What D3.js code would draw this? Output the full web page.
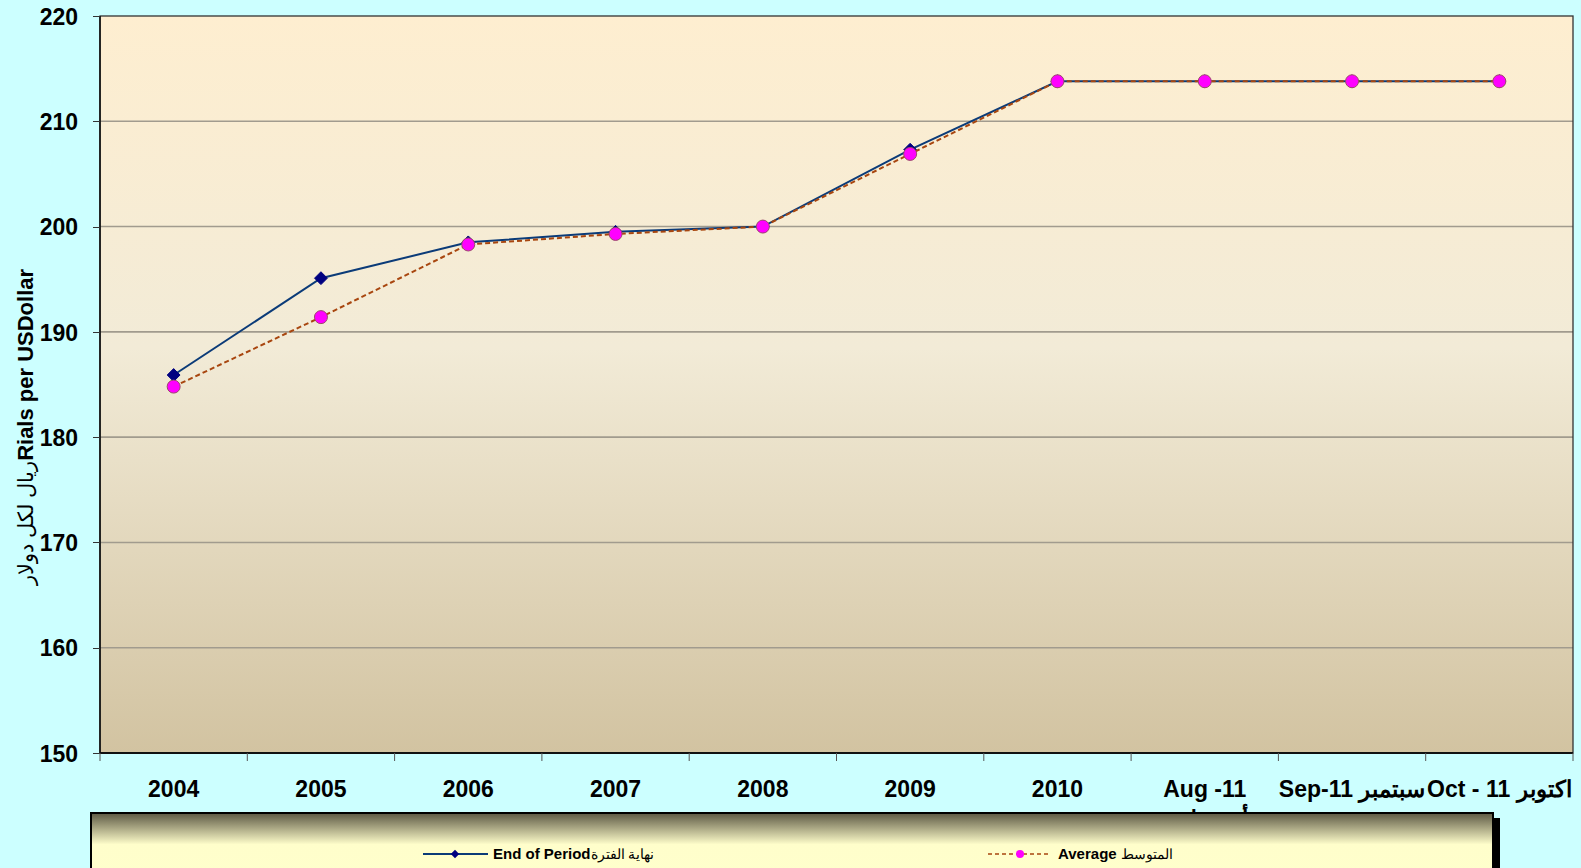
<!DOCTYPE html>
<head>
    <meta charset="utf-8">
    <title>Rials per US Dollar</title>
    <script src="https://d3js.org/d3.v7.min.js"></script>
    <style>
        body{
            margin: 0;
            background: #ccffff;
        }
        text{
            font-family: "Liberation Sans", Arial, sans-serif;
            fill: #000000;
        }
        .yAxis text, .xAxis text{
            font-size: 23px;
            font-weight: 700;
        }
        .tick line{
            stroke: #333333;
            shape-rendering: crispEdges;
        }
        path.domain{
            display: none;
        }
        text.legendText{
            font-size: 15px;
            font-weight: 700;
        }
    </style>
</head>
<body>
<script>
    // categories and series
    var categories = ["2004", "2005", "2006", "2007", "2008", "2009", "2010", "Aug -11", "Sep-11 سبتمبر", "Oct - 11 اكتوبر"];
    var subLabels = {"Aug -11": "أغسطس"};
    var endOfPeriod = [185.9, 195.1, 198.5, 199.5, 200.0, 207.3, 213.8, 213.8, 213.8, 213.8];
    var average = [184.8, 191.4, 198.3, 199.3, 200.0, 206.9, 213.8, 213.8, 213.8, 213.8];
    var yTicks = [150, 160, 170, 180, 190, 200, 210, 220];

    var width = 1581, height = 868;
    const margin = {top: 16, right: 8, bottom: 115, left: 100};

    var svg = d3.select("body").append("svg")
        .attr("width", width)
        .attr("height", height);

    var defs = svg.append("defs");

    var plotGrad = defs.append("linearGradient")
        .attr("id", "plotGrad")
        .attr("x1", 0).attr("y1", 0).attr("x2", 0).attr("y2", 1);
    plotGrad.append("stop").attr("offset", "0%").attr("stop-color", "#feeed0");
    plotGrad.append("stop").attr("offset", "45%").attr("stop-color", "#f2ebd7");
    plotGrad.append("stop").attr("offset", "100%").attr("stop-color", "#d2c3a1");

    var legendGrad = defs.append("linearGradient")
        .attr("id", "legendGrad")
        .attr("x1", 0).attr("y1", 0).attr("x2", 0).attr("y2", 1);
    legendGrad.append("stop").attr("offset", "0%").attr("stop-color", "#5c5843");
    legendGrad.append("stop").attr("offset", "45%").attr("stop-color", "#fffecb");
    legendGrad.append("stop").attr("offset", "100%").attr("stop-color", "#ffffcc");

    var x = d3.scaleBand()
        .domain(categories)
        .range([margin.left, width - margin.right])
        .padding(0);

    var y = d3.scaleLinear()
        .domain([150, 220])
        .range([height - margin.bottom, margin.top]);

    var x0 = x.range()[0], x1 = x.range()[1];
    var yTop = y(220), yBot = y(150);

    // plot background
    svg.append("rect")
        .attr("x", x0)
        .attr("y", yTop)
        .attr("width", x1 - x0)
        .attr("height", yBot - yTop)
        .style("fill", "url(#plotGrad)");

    // gridlines
    svg.selectAll("line.grid")
        .data(yTicks.filter(d => d > 150 && d < 220))
        .enter()
        .append("line")
        .attr("class", "grid")
        .attr("x1", x0).attr("x2", x1)
        .attr("y1", d => y(d)).attr("y2", d => y(d))
        .style("stroke", "#a19b8e")
        .style("stroke-width", 1.6);

    // plot border
    svg.append("rect")
        .attr("x", x0)
        .attr("y", yTop)
        .attr("width", x1 - x0)
        .attr("height", yBot - yTop)
        .style("fill", "none")
        .style("stroke", "#333333")
        .style("stroke-width", 1.3);
    svg.append("line")
        .attr("x1", x0).attr("x2", x1)
        .attr("y1", yBot).attr("y2", yBot)
        .style("stroke", "#111111")
        .style("stroke-width", 2);
    svg.append("line")
        .attr("x1", x0).attr("x2", x0)
        .attr("y1", yTop).attr("y2", yBot)
        .style("stroke", "#111111")
        .style("stroke-width", 1.6);

    // y axis
    var yAxis = d3.axisLeft(y)
        .tickValues(yTicks)
        .tickSize(7)
        .tickPadding(15);

    svg.append("g")
        .attr("class", "axis yAxis")
        .attr("transform", `translate(${x0}, 0)`)
        .call(yAxis)
        .selectAll(".tick text")
        .attr("dy", "0.36em");

    // x axis: labels centred in bands, ticks on band edges
    var xAxis = d3.axisBottom(x)
        .tickSize(0)
        .tickPadding(0);

    var xg = svg.append("g")
        .attr("class", "axis xAxis")
        .attr("transform", `translate(0, ${yBot})`)
        .call(xAxis);

    xg.selectAll(".tick text")
        .attr("y", 44)
        .attr("dy", 0)
        .attr("direction", "ltr");

    xg.selectAll(".tick")
        .filter(d => subLabels[d])
        .append("text")
        .attr("y", 74)
        .attr("text-anchor", "middle")
        .style("fill", "#000")
        .text(d => subLabels[d]);

    var edges = categories.map(d => x(d)).concat([x1]);
    svg.selectAll("line.xTick")
        .data(edges)
        .enter()
        .append("line")
        .attr("class", "xTick")
        .attr("x1", d => d).attr("x2", d => d)
        .attr("y1", yBot).attr("y2", yBot + 8)
        .style("stroke", "#555555")
        .style("stroke-width", 1);

    // y axis title
    var yTitle = svg.append("text")
        .attr("transform", `translate(33, ${y(166)}) rotate(-90)`)
        .attr("direction", "ltr")
        .attr("text-anchor", "start");
    yTitle.append("tspan")
        .style("font-size", "21px")
        .text("ريال لكل دولار");
    yTitle.append("tspan")
        .style("font-size", "22px")
        .style("font-weight", 700)
        .text("Rials per USDollar");

    // series
    var seriesLine = d3.line()
        .x((d, i) => x(categories[i]) + x.bandwidth() / 2)
        .y(d => y(d));

    svg.append("path")
        .datum(endOfPeriod)
        .attr("d", seriesLine)
        .style("fill", "none")
        .style("stroke", "#0b3b78")
        .style("stroke-width", 2);

    svg.selectAll("path.diamond")
        .data(endOfPeriod)
        .enter()
        .append("path")
        .attr("class", "diamond")
        .attr("d", d3.symbol().type(d3.symbolDiamond2).size(105))
        .attr("transform", (d, i) => `translate(${x(categories[i]) + x.bandwidth() / 2}, ${y(d)})`)
        .style("fill", "#000080")
        .style("stroke", "#000080")
        .style("stroke-width", 1);

    svg.append("path")
        .datum(average)
        .attr("d", seriesLine)
        .style("fill", "none")
        .style("stroke", "#a8460f")
        .style("stroke-width", 2)
        .style("stroke-dasharray", "5,3");

    svg.selectAll("circle.avg")
        .data(average)
        .enter()
        .append("circle")
        .attr("class", "avg")
        .attr("cx", (d, i) => x(categories[i]) + x.bandwidth() / 2)
        .attr("cy", d => y(d))
        .attr("r", 6.5)
        .style("fill", "#ff00ff")
        .style("stroke", "#9b4a6a")
        .style("stroke-width", 1);

    // legend
    var lg = svg.append("g").attr("class", "legend");
    lg.append("rect")
        .attr("x", 1493).attr("y", 818)
        .attr("width", 7).attr("height", 60)
        .style("fill", "#000");
    lg.append("rect")
        .attr("x", 91).attr("y", 813)
        .attr("width", 1402).attr("height", 70)
        .style("fill", "url(#legendGrad)")
        .style("stroke", "#000")
        .style("stroke-width", 2);

    var ly = 854;
    lg.append("line")
        .attr("x1", 423).attr("x2", 488)
        .attr("y1", ly).attr("y2", ly)
        .style("stroke", "#0b3b78")
        .style("stroke-width", 2);
    lg.append("path")
        .attr("d", d3.symbol().type(d3.symbolDiamond2).size(45))
        .attr("transform", `translate(455, ${ly})`)
        .style("fill", "#000080");
    var t1 = lg.append("text")
        .attr("class", "legendText")
        .attr("x", 493).attr("y", ly + 5)
        .attr("direction", "ltr");
    t1.append("tspan").text("End of Period");
    t1.append("tspan").style("font-weight", 400).style("font-size", "14px").text("نهاية الفترة");

    lg.append("line")
        .attr("x1", 988).attr("x2", 1051)
        .attr("y1", ly).attr("y2", ly)
        .style("stroke", "#a8460f")
        .style("stroke-width", 1.5)
        .style("stroke-dasharray", "4,3");
    lg.append("circle")
        .attr("cx", 1020).attr("cy", ly)
        .attr("r", 4)
        .style("fill", "#ff00ff");
    var t2 = lg.append("text")
        .attr("class", "legendText")
        .attr("x", 1058).attr("y", ly + 5)
        .attr("direction", "ltr");
    t2.append("tspan").text("Average ");
    t2.append("tspan").style("font-weight", 400).style("font-size", "14px").text("المتوسط");
</script>
</body>
